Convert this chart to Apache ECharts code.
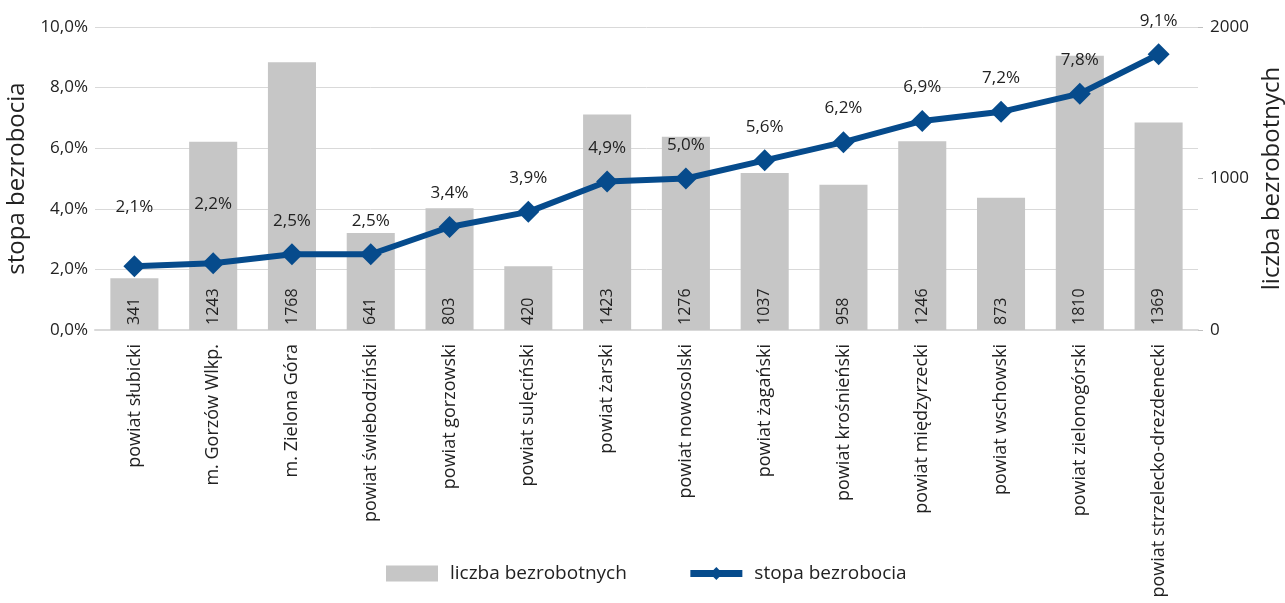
<!DOCTYPE html>
<html>
<head>
<meta charset="utf-8">
<script src="https://cdn.jsdelivr.net/npm/echarts@6/dist/echarts.min.js"></script>
<style>
  html, body { margin: 0; padding: 0; background: #fff; }
  #container { width: 1285px; height: 603px; }
</style>
</head>
<body>
<div id="container"></div>
<script>
  var categories = ['powiat słubicki', 'm. Gorzów Wlkp.', 'm. Zielona Góra', 'powiat świebodziński',
    'powiat gorzowski', 'powiat sulęciński', 'powiat żarski', 'powiat nowosolski', 'powiat żagański',
    'powiat krośnieński', 'powiat międzyrzecki', 'powiat wschowski', 'powiat zielonogórski',
    'powiat strzelecko-drezdenecki'];
  var liczba = [341, 1243, 1768, 641, 803, 420, 1423, 1276, 1037, 958, 1246, 873, 1810, 1369];
  var stopa = [2.1, 2.2, 2.5, 2.5, 3.4, 3.9, 4.9, 5.0, 5.6, 6.2, 6.9, 7.2, 7.8, 9.1];

  var font = '"Open Sans", "Noto Sans", sans-serif';
  var pct = function (v) { return v.toFixed(1).replace('.', ',') + '%'; };

  var myChart = echarts.init(document.getElementById('container'));
  var option = {
    animation: false,
    textStyle: {fontFamily: font},
    grid: {left: 95, right: 87, top: 27, bottom: 273, outerBoundsMode: 'none', containLabel: false},
    legend: {
      left: 381,
      top: 559,
      itemWidth: 52,
      itemHeight: 16,
      itemGap: 60,
      textStyle: {fontFamily: font, fontSize: 19, color: '#222', padding: [0, 0, 0, 7]},
      data: [
        {name: 'liczba bezrobotnych', icon: 'rect'},
        {name: 'stopa bezrobocia', lineStyle: {width: 7}}
      ]
    },
    xAxis: {
      type: 'category',
      data: categories,
      axisTick: {show: false},
      axisLine: {lineStyle: {color: '#d9d9d9', width: 2}},
      axisLabel: {
        interval: 0,
        rotate: 90,
        margin: 14,
        fontSize: 18,
        color: '#222',
        fontFamily: font
      }
    },
    yAxis: [{
      type: 'value',
      min: 0,
      max: 10,
      interval: 2,
      name: 'stopa bezrobocia',
      nameLocation: 'middle',
      nameGap: 64,
      nameTextStyle: {fontSize: 24, color: '#222', fontFamily: font},
      axisLine: {show: false},
      axisTick: {show: false},
      axisLabel: {formatter: pct, fontSize: 17, color: '#222', margin: 7, fontFamily: font},
      splitLine: {lineStyle: {color: '#d9d9d9'}}
    }, {
      type: 'value',
      min: 0,
      max: 2000,
      interval: 1000,
      name: 'liczba bezrobotnych',
      nameLocation: 'middle',
      nameGap: 61,
      nameRotate: 90,
      nameTextStyle: {fontSize: 24, color: '#222', fontFamily: font},
      axisLine: {show: false},
      axisTick: {show: true, length: 5, lineStyle: {color: '#bfbfbf'}},
      axisLabel: {formatter: function (v) { return String(v); }, fontSize: 17, color: '#222', margin: 12, fontFamily: font},
      splitLine: {show: false}
    }],
    series: [{
      name: 'liczba bezrobotnych',
      type: 'bar',
      yAxisIndex: 1,
      barWidth: '61%',
      itemStyle: {color: '#c6c6c6'},
      label: {
        show: true,
        position: 'insideBottom',
        rotate: 90,
        align: 'left',
        verticalAlign: 'middle',
        distance: 5,
        fontSize: 16,
        color: '#222',
        fontFamily: font
      },
      data: liczba,
      z: 1
    }, {
      name: 'stopa bezrobocia',
      type: 'line',
      yAxisIndex: 0,
      symbol: 'diamond',
      symbolSize: 22,
      lineStyle: {color: '#064b8c', width: 6},
      itemStyle: {color: '#064b8c'},
      label: {
        show: true,
        position: 'top',
        distance: 14,
        formatter: function (p) { return pct(p.value); },
        fontSize: 17,
        color: '#222',
        fontFamily: font
      },
      data: stopa.map(function (v, i) {
        return i < 2 ? {value: v, label: {distance: 40}} : v;
      }),
      z: 10
    }]
  };
  myChart.setOption(option, true);
</script>
</body>
</html>
